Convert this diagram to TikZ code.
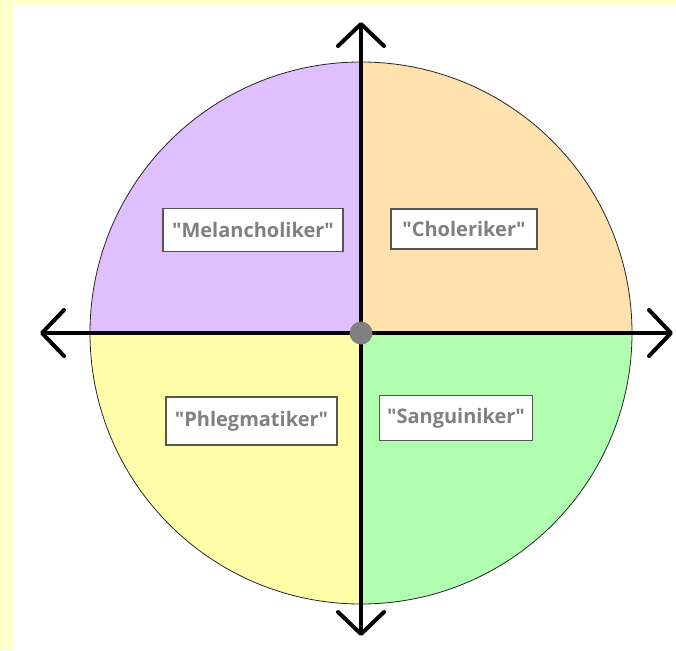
\documentclass[tikz,border=0pt]{standalone}
\usepackage{fontspec}
\setmainfont{Open Sans}
\usetikzlibrary{arrows.meta}
\definecolor{pagebg}{HTML}{FFFFCC}
\definecolor{melan}{HTML}{E0BFFF}
\definecolor{chol}{HTML}{FFE2AD}
\definecolor{phleg}{HTML}{FFFFAA}
\definecolor{sang}{HTML}{B0FFB0}
\definecolor{labgray}{HTML}{808080}
\definecolor{boxline}{HTML}{555555}
\newcommand{\qd}{\textquotedbl}
\begin{document}
\begin{tikzpicture}[x=1pt,y=-1pt,
  labelbox/.style={draw=boxline, line width=1.2pt, fill=white, text=labgray,
    font=\fontsize{20}{23}\selectfont\bfseries, inner sep=0pt},
  axisline/.style={line width=4pt, line cap=round,
    -{Straight Barb[length=22pt,width=46pt,line cap=round,line join=round]}},
  hub/.style={circle, fill=labgray, minimum size=23pt, inner sep=0pt}]
\useasboundingbox (0,0) rectangle (676,650);
% page frame
\fill[pagebg] (0,0) rectangle (676,650);
\fill[white] (13,5) rectangle (676,650);

\coordinate (O) at (361,333);
\def\rad{271}

% quadrants of the temperament circle
\fill[melan] (O) -- (90,333) arc[start angle=180, end angle=270, radius=\rad] -- cycle;
\fill[chol]  (O) -- (361,62) arc[start angle=270, end angle=360, radius=\rad] -- cycle;
\fill[sang]  (O) -- (632,333) arc[start angle=0, end angle=90, radius=\rad] -- cycle;
\fill[phleg] (O) -- (361,604) arc[start angle=90, end angle=180, radius=\rad] -- cycle;
\draw[line width=0.8pt, black!85] (O) circle[radius=\rad];

% axes
\coordinate (top) at (361,22);
\coordinate (bottom) at (361,636);
\coordinate (left) at (40,333);
\coordinate (right) at (673,333);
\draw[axisline] (O) -- (top);
\draw[axisline] (O) -- (bottom);
\draw[axisline] (O) -- (left);
\draw[axisline] (O) -- (right);

\node[hub] (hub) at (O) {};

% labels
\node[labelbox, minimum width=180pt, minimum height=43pt] (melancholiker) at (253,230) {\qd Melancholiker\qd};
\node[labelbox, minimum width=146pt, minimum height=40pt] (choleriker) at (464,229) {\qd Choleriker\qd};
\node[labelbox, minimum width=171pt, minimum height=48pt] (phlegmatiker) at (251.5,421) {\qd Phlegmatiker\qd};
\node[labelbox, minimum width=153pt, minimum height=45pt] (sanguiniker) at (456,418) {\qd Sanguiniker\qd};
\end{tikzpicture}
\end{document}
